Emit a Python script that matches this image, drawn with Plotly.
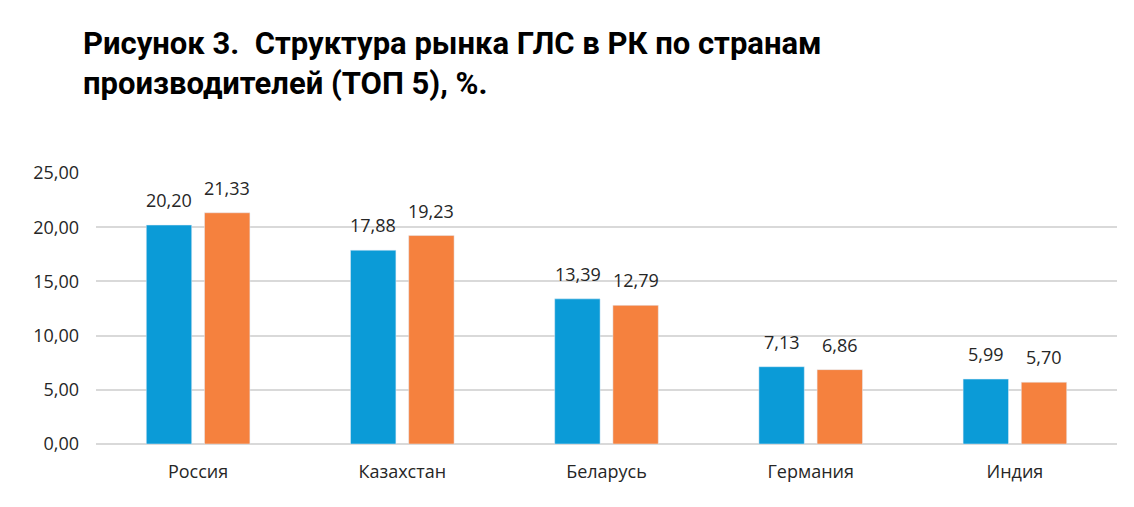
import plotly.graph_objects as go

# Data
countries = ["Россия", "Казахстан", "Беларусь", "Германия", "Индия"]
series_1 = [20.20, 17.88, 13.39, 7.13, 5.99]
series_2 = [21.33, 19.23, 12.79, 6.86, 5.70]
y_ticks = [0, 5, 10, 15, 20, 25]

label_font = dict(family="Open Sans", size=18, color="#262626")

fig = go.Figure()

fig.add_trace(go.Bar(
    x=countries,
    y=series_1,
    name="Ряд 1",
    marker_color="#0B9BD7",
    cliponaxis=False
))

fig.add_trace(go.Bar(
    x=countries,
    y=series_2,
    name="Ряд 2",
    marker_color="#F5813E",
    cliponaxis=False
))

# value labels sit a bit higher above the bars than plotly's "outside" text
annotations = []
for shift, values in [(-29, series_1), (29, series_2)]:
    for c, v in zip(countries, values):
        annotations.append(dict(
            x=c, y=v, xref="x", yref="y",
            text=f"{v:.2f}".replace(".", ","),
            showarrow=False,
            xshift=shift, yshift=25,
            yanchor="middle",
            font=label_font,
        ))

# title
annotations.append(dict(
    text="<b>Рисунок 3.  Структура рынка ГЛС в РК по странам<br>производителей (ТОП 5), %.</b>",
    xref="paper", yref="paper",
    x=0, y=1,
    xanchor="left", yanchor="top",
    xshift=-15, yshift=150,
    align="left",
    showarrow=False,
    font=dict(family="Roboto", size=31, color="black"),
))

fig.update_layout(
    width=1134,
    height=507,
    margin=dict(l=88, r=25, t=165, b=71),
    paper_bgcolor="white",
    plot_bgcolor="white",
    barmode="group",
    bargap=0.43,
    bargroupgap=0.22,
    separators=", ",
    showlegend=False,
    font=label_font,
    xaxis=dict(
        showgrid=False,
        showline=False,
        ticks="",
        ticklabelstandoff=15,
        tickfont=label_font,
    ),
    yaxis=dict(
        range=[0, 25],
        tickvals=y_ticks,
        tickformat=".2f",
        showgrid=True,
        gridcolor="#D9D9D9",
        gridwidth=1.5,
        zeroline=True,
        zerolinecolor="#D9D9D9",
        zerolinewidth=1.5,
        ticks="",
        ticklabelstandoff=16,
        tickfont=label_font,
    ),
    annotations=annotations,
)

fig.write_html("out.html")
